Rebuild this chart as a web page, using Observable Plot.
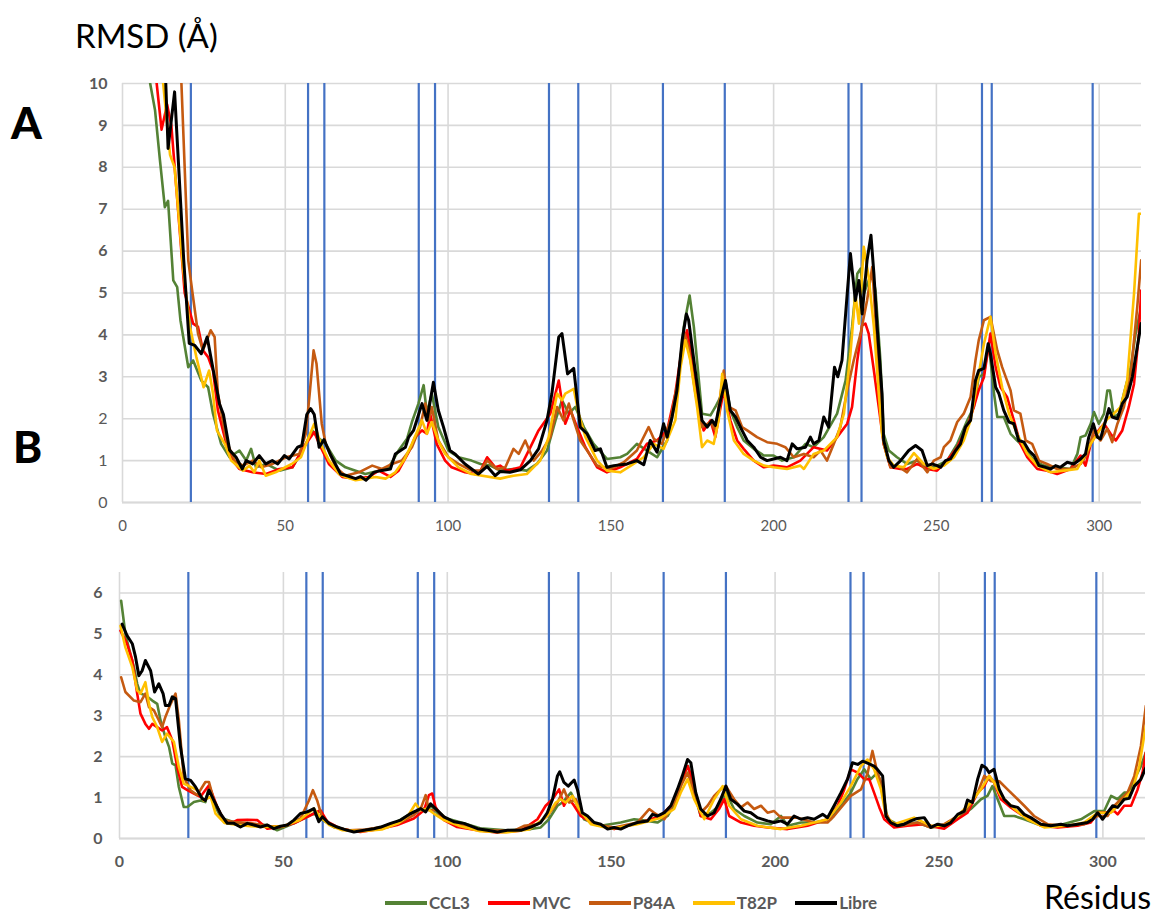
<!DOCTYPE html>
<html>
<head>
<meta charset="utf-8">
<script src="https://cdn.jsdelivr.net/npm/d3@7"></script>
<script src="https://cdn.jsdelivr.net/npm/@observablehq/plot@0.6"></script>
<style>
  body { margin: 0; background: #fff; }
  #wrap { position: relative; width: 1161px; height: 917px; overflow: hidden; font-family: Lato, "Open Sans", sans-serif; }
  .abs { position: absolute; white-space: nowrap; line-height: 1; }
  #legend { position: absolute; left: 385px; top: 894px; display: flex; align-items: center; font: bold 17px Lato, sans-serif; color: #595959; line-height: 1; }
  #legend .item { display: flex; align-items: center; margin-right: 18px; }
  #legend .sw { width: 42px; height: 4px; margin-right: 2px; }
</style>
</head>
<body>
<div id="wrap">
  <div class="abs" style="left:75px;top:19px;font-size:33px;color:#000;">RMSD (Å)</div>
  <div class="abs" style="left:11px;top:100px;font-size:44px;font-weight:900;color:#000;">A</div>
  <div class="abs" style="left:13px;top:424px;font-size:44px;font-weight:900;color:#000;">B</div>
  <div class="abs" style="left:1044px;top:881px;font-size:32px;line-height:32px;color:#000;">Résidus</div>
  <div id="chartA" class="abs" style="left:0;top:0;"></div>
  <div id="chartB" class="abs" style="left:0;top:540px;"></div>
  <div id="legend"></div>
</div>
<script>
// ---------- data ----------
const seriesNames = ["CCL3", "MVC", "P84A", "T82P", "Libre"];
const seriesColors = ["#548235", "#ff0000", "#c55a11", "#ffc000", "#000000"];
const xTicks = [0, 50, 100, 150, 200, 250, 300];
const yTicksA = [0, 1, 2, 3, 4, 5, 6, 7, 8, 9, 10];
const yTicksB = [0, 1, 2, 3, 4, 5, 6];
const helixBounds = [21, 57, 62, 91, 96, 131, 140, 166, 185, 223, 227, 264, 267, 298];

// Panel A : [residue, RMSD]
const ccl3A = [[7,12],[8.5,10],[10,9.36],[11.5,8.17],[13,7.05],[14,7.2],[15.6,5.3],[16.8,5.14],[17.8,4.35],[20.2,3.23],[21.7,3.39],[24.2,2.91],[26.3,2.75],[27.8,2.12],[30.3,1.4],[32.9,1.08],[35.9,1.24],[38,1.0],[39.5,1.28],[41,0.84],[44.1,0.92],[48.2,0.76],[52.2,0.84],[55.3,1.24],[58.3,1.72],[59.9,1.56],[62.4,1.4],[65.5,1.0],[68.5,0.84],[71.6,0.76],[74.6,0.68],[78.7,0.76],[81.8,0.84],[84.8,1.24],[87.4,1.52],[88.9,1.92],[90.9,2.36],[92.5,2.8],[93.5,2.12],[95,2.6],[97,1.8],[100.1,1.24],[103.2,1.08],[107.2,1.0],[110,0.92],[113,0.88],[116,0.76],[120.1,0.8],[124.2,0.76],[127.3,0.92],[130.4,1.24],[133,1.96],[135,2.44],[137.1,2.12],[139.1,2.28],[141.7,1.8],[144.7,1.4],[148.8,1.04],[152.9,1.08],[155,1.16],[158,1.4],[161.1,1.24],[164.2,1.08],[167.3,1.48],[170.3,2.6],[172.4,4.19],[174.2,4.94],[175.5,4.19],[178,2.12],[180.6,2.08],[182.1,2.28],[184.2,2.6],[185.2,2.91],[186.7,2.2],[188.8,1.8],[190.8,1.48],[193.9,1.28],[197,1.12],[200,1.12],[202.6,1.0],[206.2,1.08],[209.8,1.4],[212.3,1.32],[215.4,1.56],[219.5,2.12],[222.1,2.91],[224.1,4.19],[225.7,5.46],[226.7,5.58],[227.7,4.98],[229.2,5.3],[230.3,5.46],[231.3,5.06],[232.8,3.39],[233.8,1.64],[235.4,1.24],[237.9,1.08],[241,0.92],[244.1,1.0],[247.2,0.8],[250.2,0.88],[253.3,1.0],[256.4,1.4],[259.5,1.96],[261.5,2.28],[263,2.99],[264.6,3.07],[266.1,3.79],[267.7,2.6],[268.7,2.04],[270.7,2.04],[272.8,1.64],[274.8,1.48],[276.9,1.32],[280,1.0],[283,0.88],[287.1,0.84],[291.2,0.8],[293.3,1.16],[294.3,1.56],[295.8,1.6],[297.4,1.88],[298.4,2.16],[299.9,1.88],[301.5,2.12],[302.5,2.67],[303.3,2.67],[304.5,2.04],[306.1,2.12],[307.6,2.6],[309.7,3.23],[311.2,4.03],[312.9,4.67]];
const mvcA = [[8,12],[10.5,10],[12,8.9],[13.7,9.5],[15,9.0],[19.1,5.0],[21.7,4.27],[23.2,4.19],[24.7,3.63],[26.3,3.47],[27.8,3.15],[29.3,2.2],[31.9,1.4],[33.9,1.0],[35.9,0.8],[40,0.72],[44.1,0.68],[48.2,0.8],[52.2,0.84],[55.3,1.28],[58.9,1.68],[60.4,1.4],[63.4,0.92],[67.5,0.61],[71.6,0.57],[75.7,0.61],[78.7,0.76],[82.3,0.61],[84.8,0.76],[87.9,1.2],[89.9,1.56],[92,1.72],[93.5,1.64],[94.5,2.12],[96.5,1.4],[99.1,1.0],[101.1,0.84],[105.2,0.72],[108.2,0.68],[110,0.76],[112,1.08],[114.5,0.84],[116,0.88],[118.1,0.76],[122.2,0.84],[125.3,1.32],[127.8,1.72],[131.4,2.12],[134,2.91],[136,1.88],[137.6,2.2],[139.6,1.8],[142.2,1.32],[145.8,0.84],[148.8,0.72],[152.9,0.84],[158,1.04],[161.1,1.4],[164.2,1.48],[167.3,1.72],[169.8,2.6],[171.9,3.71],[173.4,4.11],[175,3.39],[177,2.2],[178.5,1.72],[180.6,1.96],[182.1,1.56],[183.7,2.28],[184.7,2.67],[186.7,1.96],[188.8,1.48],[190.8,1.28],[193.9,1.0],[197,0.84],[200,0.88],[204.1,0.84],[208.2,1.0],[212.3,1.32],[216.4,1.24],[219.5,1.56],[222.6,1.88],[224.1,2.28],[225.7,3.39],[227.2,4.23],[228.2,4.27],[229.2,4.03],[230.8,3.15],[232.3,2.28],[233.8,1.4],[235.9,0.84],[239,0.8],[241,0.8],[244.1,0.92],[247.2,0.8],[250.2,0.76],[253.3,1.0],[256.4,1.32],[259.5,1.8],[261.5,2.28],[263,2.68],[264.6,2.99],[266.6,4.03],[268.2,3.23],[269.7,2.75],[271.7,2.52],[273.8,1.96],[275.8,1.4],[277.9,1.08],[281,0.8],[284,0.76],[287.1,0.68],[291.2,0.8],[294.3,1.12],[295.8,0.88],[297.4,1.4],[299.4,1.68],[301.5,1.88],[303.5,1.64],[305.1,1.48],[307.1,1.72],[309.1,2.28],[310.7,2.83],[312.2,4.03],[312.9,5.06]];
const p84aA = [[16,12],[18.1,10],[20.2,5.78],[21.5,5.0],[23.2,4.03],[24.7,3.63],[27.1,4.11],[28.3,3.95],[29.3,2.6],[31.9,1.48],[34.4,1.0],[37,0.88],[40,1.0],[42.6,0.84],[46.1,0.92],[50.2,1.08],[54.3,1.16],[56.3,1.64],[57.5,2.6],[58.7,3.63],[59.6,3.31],[61.2,1.88],[62.4,1.4],[65.5,0.84],[68.5,0.64],[72.6,0.72],[76.7,0.88],[79.7,0.8],[82.8,0.92],[85.8,1.0],[88.9,1.32],[91.4,1.8],[93,2.36],[94,1.96],[95,2.28],[97,1.48],[100.1,1.08],[103.2,0.92],[107.2,0.76],[110,0.76],[112,1.0],[115,0.8],[117.6,0.84],[120.1,1.28],[121.7,1.16],[123.7,1.48],[126.3,1.0],[128.9,1.24],[131.4,1.56],[133.5,2.28],[135.5,1.96],[137.1,2.36],[138.6,1.96],[140.6,1.48],[142.7,1.24],[145.8,0.88],[149.9,0.8],[154,0.96],[158,1.24],[161.6,1.8],[163.2,1.52],[165.7,1.4],[168.3,1.96],[170.8,2.99],[172.6,4.03],[173.9,3.71],[176,2.6],[178,1.8],[180.6,1.92],[182.1,1.72],[183.7,2.6],[184.7,3.15],[186.2,2.28],[188.3,2.2],[190.3,1.8],[191.9,1.72],[194.9,1.56],[198,1.44],[201.1,1.4],[203.6,1.32],[206.2,1.08],[209.3,1.16],[212.3,1.08],[214.4,1.24],[216.4,1.0],[218.5,1.4],[220.5,1.8],[222.6,2.68],[224.6,3.39],[226.7,4.03],[228.7,4.82],[230.3,5.62],[231.3,4.35],[232.8,2.6],[233.8,1.4],[235.9,0.84],[237.9,0.88],[241,0.72],[244.1,1.04],[247.2,0.72],[249.2,1.0],[251.3,1.08],[252.3,1.32],[254.3,1.48],[256.4,1.92],[258.4,2.12],[260.5,2.52],[262,3.39],[263,3.87],[264.6,4.35],[266.6,4.43],[268.7,3.63],[270.2,3.23],[271.7,2.91],[272.8,2.67],[273.8,2.2],[275.8,2.12],[277.4,1.48],[279.4,1.4],[281.5,1.0],[284,0.92],[287.1,0.8],[291.2,0.8],[294.3,0.92],[296.3,1.16],[298.4,1.72],[300.4,1.48],[302.5,1.76],[304,1.44],[305.6,1.88],[307.6,2.28],[309.7,3.07],[311.7,4.67],[312.9,5.78]];
const t82pA = [[10,12],[12.5,10],[14.6,8.3],[16,8.0],[18.6,5.6],[20.7,4.2],[22.7,3.47],[24.9,2.75],[26.6,3.15],[27.8,2.6],[29,1.72],[31.4,1.4],[33.4,1.0],[37,0.76],[39,0.88],[40.5,0.72],[42,1.0],[44,0.64],[47,0.72],[49,0.8],[52,0.92],[54.8,1.08],[56.8,1.48],[58.9,1.88],[60.9,1.4],[63.4,1.0],[66.5,0.68],[68.5,0.61],[71.6,0.53],[74.6,0.57],[77.7,0.61],[80.8,0.57],[83.8,0.72],[86.4,1.0],[88.9,1.4],[92,1.96],[93.5,1.64],[95,1.92],[97,1.48],[99.1,1.16],[103.2,0.84],[107.2,0.68],[116,0.57],[120.1,0.64],[124.2,0.68],[128.3,1.0],[130.9,1.56],[133.5,2.6],[135,2.44],[136,2.6],[138.6,2.71],[140.1,2.12],[142.2,1.56],[145.8,1.0],[148.8,0.76],[152.9,0.72],[157,0.92],[160.1,1.08],[163.2,1.4],[166.2,1.28],[169.8,1.96],[171.4,3.23],[172.9,3.87],[174.4,3.39],[176.5,2.28],[178,1.32],[179.6,1.48],[181.6,1.4],[183.1,1.96],[184.2,3.07],[185.7,2.2],[187.8,1.48],[190.8,1.16],[193.9,1.0],[197,0.88],[200,0.84],[204.1,0.8],[208.2,0.88],[209.3,0.8],[212.3,1.16],[215.4,1.24],[219.5,1.56],[221.6,2.12],[223.6,3.55],[225.1,4.98],[226.2,4.27],[227.7,6.1],[229.2,5.38],[230.8,4.19],[232.3,2.6],[233.3,1.64],[234.9,1.08],[236.9,0.88],[240,0.84],[243.1,1.18],[246.1,0.92],[249.2,0.8],[252.3,0.88],[255.4,1.08],[258.4,1.48],[260.5,1.96],[262.5,2.83],[264.6,3.79],[266.6,4.43],[268.2,3.55],[270.2,2.75],[272.3,2.12],[274.8,1.64],[277.9,1.16],[281,0.88],[285.1,0.72],[289.2,0.76],[293.3,0.8],[295.3,1.08],[297.4,1.4],[299.4,1.64],[302.5,1.99],[304.5,2.12],[306.6,2.28],[308.6,2.91],[310.7,4.98],[312.2,6.89],[312.9,6.89]];
const libreA = [[12,11],[13.3,10],[14,8.45],[16,9.8],[18.8,5.8],[20.5,3.8],[22.2,3.75],[24.2,3.55],[26,3.95],[27.3,3.4],[29.8,2.35],[31,2.1],[32.9,1.25],[34.9,1.08],[36.8,0.8],[38,1.0],[40,0.92],[42,1.12],[44,0.92],[46,1.0],[47.7,0.92],[49.7,1.12],[51.2,1.04],[53.8,1.32],[55.1,1.36],[56.6,2.1],[57.8,2.24],[58.9,2.1],[60.4,1.32],[61.9,1.5],[64,1.12],[67,0.68],[68.5,0.65],[71.6,0.57],[73.1,0.62],[74.8,0.53],[77.2,0.72],[79.2,0.76],[82.3,0.8],[83.8,1.16],[86.9,1.32],[87.9,1.56],[89.4,1.72],[92,2.36],[93.5,1.96],[95.5,2.87],[97,2.2],[98.6,1.8],[100.6,1.24],[102.1,1.16],[105.2,0.92],[109.3,0.68],[112,0.86],[114.5,0.64],[116,0.74],[119,0.72],[122.2,0.78],[125.3,1.0],[127.8,1.28],[130.4,1.96],[131.9,2.6],[134,3.95],[135,4.03],[136.7,3.07],[138.6,3.2],[140.6,1.8],[142.7,1.64],[145.2,1.24],[146.8,1.28],[148.8,0.84],[150.9,0.88],[155,0.92],[158,1.0],[160.1,0.9],[162.1,1.48],[164.2,1.2],[166.2,1.88],[167.3,1.56],[168.8,2.04],[170.3,2.67],[171.9,3.87],[173.2,4.5],[173.9,4.35],[175.5,3.39],[178,1.96],[179.6,1.8],[181.1,1.96],[182.1,1.84],[183.7,2.44],[185.2,2.91],[186.7,2.2],[188.3,2.04],[190.3,1.72],[191.9,1.48],[193.9,1.32],[196,1.08],[198,1.0],[200,1.04],[202.1,1.08],[204.1,1.0],[205.7,1.4],[207.2,1.28],[209.8,1.32],[211.3,1.56],[212.3,1.4],[213.9,1.48],[215.4,2.04],[216.9,1.8],[218.7,3.23],[219.7,3.0],[221,3.39],[222.6,4.98],[223.6,5.94],[225.1,4.82],[226.2,5.3],[227.2,4.5],[228.7,5.78],[229.9,6.38],[230.8,5.46],[231.8,4.19],[233.3,2.6],[233.8,1.48],[235.4,1.0],[236.9,0.84],[239,1.0],[241.5,1.24],[243.6,1.36],[245.6,1.24],[247.2,0.88],[248.7,0.92],[250.2,0.88],[251.3,0.84],[252.8,1.0],[254.3,1.04],[255.9,1.24],[257.4,1.4],[258.9,1.8],[260.5,1.96],[262,2.91],[263,3.15],[264.6,3.2],[265.9,3.79],[266.6,3.55],[268.2,2.75],[269.2,2.6],[270.7,2.2],[272.3,1.92],[273.8,1.88],[275.3,1.48],[276.9,1.44],[278.4,1.24],[280,1.12],[281.5,0.88],[283.5,0.84],[285.1,0.8],[286.6,0.88],[288.1,0.84],[290.2,0.96],[292.2,0.92],[294.3,1.04],[295.8,1.16],[296.8,1.56],[298.2,1.88],[299.4,1.56],[300.4,1.52],[301.7,1.88],[303,2.24],[304,2.04],[305.6,2.0],[307.1,2.36],[308.6,2.52],[310.2,3.0],[311.7,3.71],[312.9,4.27]];

// Panel B : [residue, RMSD]
const ccl3B = [[0.5,5.81],[1.8,5.0],[2.8,4.67],[4.4,4.19],[5.4,3.78],[6.4,3.54],[7.9,3.5],[10,3.37],[11.5,3.29],[12.5,2.89],[14,2.48],[15.1,2.24],[16.1,1.83],[17.1,1.79],[18.1,1.26],[19.6,0.77],[20.7,0.77],[22.7,0.89],[24.7,0.93],[26.2,0.89],[27.3,1.26],[28.8,0.85],[31,0.5],[35,0.4],[40,0.35],[45,0.33],[48.1,0.2],[53.2,0.37],[57.3,0.53],[59.3,0.61],[61.3,0.49],[65.4,0.28],[70,0.2],[75,0.2],[80,0.28],[84.7,0.41],[89.8,0.65],[92.9,0.73],[95.4,0.77],[98,0.53],[105,0.37],[110,0.25],[118,0.2],[125.5,0.23],[128.5,0.27],[131,0.47],[133.6,0.8],[135.1,0.88],[137.7,1.12],[139.7,0.8],[141.7,0.47],[146.8,0.31],[152.9,0.39],[157,0.47],[161.1,0.43],[164.1,0.39],[167.2,0.55],[170.2,0.96],[172.3,1.61],[173.5,1.77],[175.3,1.12],[177.3,0.55],[180.4,0.63],[182.9,0.8],[185,1.12],[187.5,0.72],[190.6,0.55],[194.6,0.39],[198.7,0.35],[201.8,0.55],[203.8,0.31],[207.9,0.39],[211.9,0.39],[217,0.47],[220.1,0.8],[223.1,1.12],[225.1,1.45],[227.2,1.69],[229.2,1.45],[231.2,1.61],[232.8,1.2],[234.3,0.47],[237.3,0.35],[243.4,0.39],[247.5,0.27],[252.6,0.31],[256.7,0.55],[259.7,0.72],[262.8,0.96],[264.8,1.04],[266.3,1.28],[267.9,0.96],[269.9,0.55],[273,0.55],[276,0.47],[280.1,0.35],[286.2,0.31],[293.3,0.47],[297.4,0.67],[300.4,0.67],[302.5,1.04],[304.5,0.96],[306.5,1.12],[308,1.12],[309.6,1.45],[311.6,1.77],[313.1,2.1]];
const mvcB = [[0.3,5.08],[2.3,4.76],[3.9,4.35],[5.4,3.54],[6.4,3.05],[7.9,2.8],[9,2.68],[10,2.8],[11.5,2.72],[13,2.64],[14.5,2.72],[16.1,2.4],[17.6,1.75],[19.1,1.26],[20.7,1.18],[22.7,1.1],[24.7,1.02],[27.3,1.3],[29.8,0.77],[31.8,0.45],[33.9,0.37],[35.9,0.45],[39,0.46],[42,0.45],[45.1,0.24],[49.1,0.28],[53.2,0.37],[57.3,0.53],[61.3,0.69],[63.4,0.41],[67.4,0.24],[73.5,0.16],[79.7,0.24],[84.7,0.33],[89.8,0.49],[92.9,0.69],[94.4,1.06],[95.4,1.1],[96.4,0.77],[99,0.45],[103,0.28],[109.2,0.2],[115,0.15],[122.4,0.19],[127.5,0.47],[130,0.8],[132.1,0.96],[134.1,1.2],[135.6,0.8],[136.9,1.0],[138.7,0.8],[140.7,0.55],[144.8,0.35],[150.9,0.23],[159,0.39],[165.1,0.55],[169.2,0.88],[171.7,1.45],[173.3,1.77],[174.8,1.45],[177.3,0.55],[180.4,0.47],[182.9,0.72],[184.5,0.96],[186,0.55],[189.6,0.39],[193.6,0.31],[197.7,0.27],[203.8,0.23],[209.9,0.31],[216,0.47],[219.1,0.8],[221.1,1.2],[223.1,1.69],[225.2,1.61],[227.2,1.45],[228.7,1.45],[230.2,1.12],[231.8,0.76],[233.3,0.47],[236.3,0.27],[240.4,0.31],[245.5,0.35],[249.6,0.27],[251.6,0.24],[255.7,0.47],[258.7,0.63],[261.8,1.12],[263.8,1.28],[265.3,1.53],[266.8,1.37],[268.9,0.96],[271.9,0.76],[275,0.59],[278,0.47],[281.1,0.31],[286.2,0.27],[292.3,0.31],[296.3,0.39],[298.4,0.63],[300.4,0.63],[303.5,0.67],[304.5,0.59],[306.5,0.8],[308.6,0.8],[310.6,1.2],[312.1,1.61],[313.1,2.1]];
const p84aB = [[0.5,3.94],[1.8,3.58],[4.4,3.37],[6.4,3.33],[7.9,3.54],[9,3.21],[10.5,3.13],[12,2.89],[13,2.72],[14,2.97],[15.6,3.29],[17.1,3.54],[18.1,2.89],[19.6,1.5],[21.7,1.18],[23.7,1.06],[26.2,1.38],[27.3,1.38],[28.8,0.93],[31.8,0.45],[35,0.4],[40,0.38],[45,0.3],[50,0.3],[53.2,0.4],[55.2,0.49],[57.8,0.93],[59,1.18],[60.3,0.93],[61.9,0.49],[65.4,0.28],[70,0.2],[75,0.22],[80,0.28],[85,0.37],[89.8,0.57],[91.9,0.73],[93.4,1.06],[94.4,0.69],[96.9,0.69],[100,0.45],[105,0.32],[110,0.2],[120.4,0.19],[123.4,0.31],[127.5,0.35],[130.5,0.55],[133.6,0.88],[135.6,1.2],[137.2,0.88],[139.2,0.96],[140.7,0.63],[144.8,0.35],[150.9,0.27],[158,0.39],[161.6,0.72],[163.1,0.63],[166.2,0.47],[169.2,0.88],[171.2,1.28],[173.3,1.61],[175.3,1.12],[177.3,0.63],[179.4,0.8],[181.4,1.04],[183.4,1.2],[185,1.28],[187.5,0.96],[189.6,0.76],[191.6,0.88],[193.6,0.72],[195.7,0.8],[197.7,0.63],[199.7,0.67],[201.8,0.51],[206.8,0.51],[211.9,0.39],[216,0.39],[218,0.55],[220.6,0.8],[223.1,1.04],[226.2,1.2],[228.2,1.59],[229.7,2.14],[231.2,1.61],[232.8,1.28],[233.8,0.63],[235.3,0.39],[238.4,0.31],[243.4,0.39],[247.5,0.27],[251.6,0.35],[255.7,0.55],[258.7,0.72],[261.8,1.12],[263.8,1.53],[265.9,1.4],[268.4,1.4],[270.9,1.2],[274,0.96],[276,0.8],[279,0.55],[283.1,0.35],[288.2,0.31],[294.3,0.35],[298.4,0.55],[301.4,0.55],[303.5,0.8],[305.5,0.96],[307.5,1.12],[309.6,1.53],[311.6,2.26],[313.1,3.24]];
const t82pB = [[0.3,5.2],[1.8,4.67],[3.9,4.19],[5.4,3.62],[6.4,3.54],[7.9,3.82],[9,3.29],[10,2.97],[11.5,2.72],[13,2.36],[14.5,2.56],[16.6,2.36],[18.1,1.75],[19.6,1.34],[21.7,1.26],[23.7,1.18],[25.7,0.93],[27.8,1.02],[29.3,0.61],[32,0.38],[36,0.33],[40,0.3],[45,0.28],[50,0.3],[55,0.45],[59.3,0.73],[61,0.55],[64,0.33],[68,0.2],[74,0.18],[80,0.22],[85,0.37],[88,0.55],[90.3,0.85],[91.9,0.69],[93.9,0.73],[95.9,0.61],[99,0.45],[104,0.3],[110,0.18],[118,0.15],[125,0.22],[130.5,0.55],[133.1,0.88],[134.6,0.96],[136.1,0.88],[138.2,1.04],[140.2,0.72],[143.8,0.35],[150,0.24],[158,0.35],[165,0.5],[169.2,0.72],[171.2,1.12],[173.3,1.45],[175.3,0.96],[178.4,0.47],[181.4,0.96],[184,1.28],[186,0.8],[189.6,0.47],[194.6,0.31],[201.8,0.23],[207.9,0.31],[216,0.47],[220.1,0.88],[223.1,1.28],[226.2,1.77],[228.2,1.93],[230.2,1.69],[232.3,1.2],[233.8,0.55],[236.3,0.35],[242.4,0.51],[247.5,0.31],[251.6,0.31],[255.7,0.55],[259.7,0.88],[262.8,1.2],[264.3,1.4],[265.3,1.53],[266.8,1.37],[268.9,1.04],[273,0.72],[277,0.47],[282.1,0.27],[289.2,0.31],[294.3,0.39],[298.4,0.63],[302.5,0.63],[306.5,0.96],[309.1,1.2],[311.1,1.77],[313.1,2.75]];
const libreB = [[0.8,5.24],[2.3,4.96],[3.9,4.76],[4.9,4.43],[5.9,3.98],[6.9,4.1],[7.9,4.35],[9.5,4.1],[10.7,3.58],[12,3.78],[13.3,3.54],[14,3.25],[15.1,3.25],[16.1,3.46],[17.1,3.42],[18.6,2.24],[20.1,1.46],[21.7,1.42],[23.2,1.26],[25.2,0.98],[26.2,0.93],[27.3,1.18],[28.8,0.93],[30.8,0.61],[32.9,0.37],[34.9,0.37],[36.9,0.28],[39,0.37],[41,0.33],[43,0.28],[45.1,0.33],[47.1,0.24],[49.1,0.3],[51.2,0.33],[53.2,0.45],[55.2,0.61],[57.3,0.65],[59.3,0.73],[60.8,0.41],[61.9,0.53],[63.9,0.37],[66.4,0.28],[69.5,0.2],[71.5,0.16],[74.6,0.2],[77.6,0.24],[79.7,0.28],[82.7,0.37],[85.8,0.45],[88.8,0.61],[91.9,0.73],[93.4,0.65],[94.9,0.85],[96.4,0.73],[99,0.53],[102,0.41],[105.1,0.37],[109.2,0.24],[112.2,0.2],[115.3,0.16],[118.3,0.2],[122.4,0.2],[125.5,0.28],[128.5,0.39],[130.5,0.63],[132.1,0.96],[133.6,1.53],[134.3,1.63],[135.6,1.37],[136.9,1.28],[138.7,1.43],[139.7,1.2],[141.2,0.63],[142.8,0.55],[144.8,0.39],[146.8,0.35],[148.9,0.23],[150.9,0.27],[152.9,0.23],[155,0.31],[158,0.39],[161.1,0.43],[162.6,0.59],[164.1,0.55],[166.2,0.63],[168.2,0.8],[170.2,1.2],[171.7,1.53],[173.3,1.93],[174.3,1.85],[175.8,1.12],[177.3,0.72],[179.4,0.55],[181.4,0.63],[183.4,0.96],[185,1.28],[186.5,0.96],[188.5,0.84],[190.6,0.67],[192.6,0.63],[194.6,0.51],[197.7,0.43],[199.7,0.39],[201.8,0.43],[203.8,0.35],[205.8,0.55],[207.9,0.47],[209.9,0.51],[211.9,0.47],[214.5,0.59],[216,0.51],[218,0.8],[220.1,1.12],[222.1,1.45],[223.6,1.85],[225.2,1.81],[226.7,1.89],[228.2,1.84],[230.2,1.77],[231.2,1.69],[232.8,1.53],[233.8,0.55],[235.3,0.39],[237.3,0.31],[239.4,0.35],[241.4,0.43],[243.4,0.49],[245.5,0.51],[247.5,0.27],[249.6,0.35],[251.6,0.31],[253.6,0.39],[255.7,0.59],[257.7,0.67],[258.7,0.94],[260.2,0.88],[261.8,1.45],[263.1,1.79],[264.3,1.73],[265.3,1.61],[266.8,1.69],[268.4,1.2],[269.9,0.96],[271.9,0.8],[274,0.76],[276,0.59],[278,0.51],[281.1,0.35],[284.1,0.31],[287.2,0.35],[289.2,0.31],[292.3,0.35],[295.3,0.39],[296.9,0.47],[298.4,0.63],[299.9,0.47],[301.4,0.63],[303,0.8],[304.5,0.76],[306.5,0.96],[308,0.98],[309.6,1.28],[311.6,1.45],[313.1,1.73]];

// ---------- drawing ----------
const FONT = "Lato, 'Open Sans', sans-serif";
const GRID = "#d9d9d9";
const TICK = "#595959";
const BLUE = "#4472c4";

function lineMarks(seriesList) {
  return seriesList.map((pts, i) => Plot.line(pts, {
    x: d => d[0], y: d => d[1],
    stroke: seriesColors[i],
    strokeWidth: i === 4 ? 3 : 2.6,
    strokeLinejoin: "round",
    clip: true
  }));
}

function panel(o) {
  return Plot.plot({
    width: 1161,
    height: o.height,
    marginLeft: o.ml, marginRight: o.mr, marginTop: o.mt, marginBottom: o.mb,
    style: { fontFamily: FONT, background: "transparent", color: TICK, overflow: "visible" },
    x: { domain: [0, 313] },
    y: { domain: o.yDomain },
    marks: [
      Plot.gridY(o.yTicks, { stroke: GRID, strokeOpacity: 1, strokeWidth: 1.6 }),
      Plot.gridX(xTicks, { stroke: GRID, strokeOpacity: 1, strokeWidth: 1.6 }),
      Plot.ruleY([0], { stroke: GRID, strokeWidth: 2 }),
      Plot.ruleX(helixBounds, { stroke: BLUE, strokeWidth: 2.2 }),
      ...lineMarks(o.series),
      Plot.axisX(xTicks, { tickSize: 0, tickPadding: o.xPad, fontSize: o.xFont, fontWeight: o.xWeight, fill: TICK }),
      ...o.yAxes
    ]
  });
}

const plotA = panel({
  height: 540, ml: 122, mr: 20, mt: 83, mb: 38,
  yDomain: [0, 10], yTicks: yTicksA,
  series: [ccl3A, mvcA, p84aA, t82pA, libreA],
  xPad: 18, xFont: 15, xWeight: "normal",
  yAxes: [
    Plot.axisY(yTicksA.filter(t => t >= 3), { tickSize: 0, tickPadding: 15, fontSize: 16, fontWeight: "bold", fill: TICK }),
    Plot.axisY(yTicksA.filter(t => t < 3), { tickSize: 0, tickPadding: 15, fontSize: 16, fontWeight: "normal", fill: TICK })
  ]
});
document.getElementById("chartA").appendChild(plotA);

const plotB = panel({
  height: 338, ml: 119, mr: 16, mt: 32, mb: 40,
  yDomain: [0, 6.5], yTicks: yTicksB,
  series: [ccl3B, mvcB, p84aB, t82pB, libreB],
  xPad: 17, xFont: 16, xWeight: "bold",
  yAxes: [
    Plot.axisY(yTicksB, { tickSize: 0, tickPadding: 17, fontSize: 16, fontWeight: "bold", fill: TICK })
  ]
});
document.getElementById("chartB").appendChild(plotB);

// legend
const legend = document.getElementById("legend");
seriesNames.forEach((n, i) => {
  const item = document.createElement("div");
  item.className = "item";
  const sw = document.createElement("div");
  sw.className = "sw";
  sw.style.background = seriesColors[i];
  const lab = document.createElement("span");
  lab.textContent = n;
  item.appendChild(sw); item.appendChild(lab);
  legend.appendChild(item);
});
</script>
</body>
</html>
